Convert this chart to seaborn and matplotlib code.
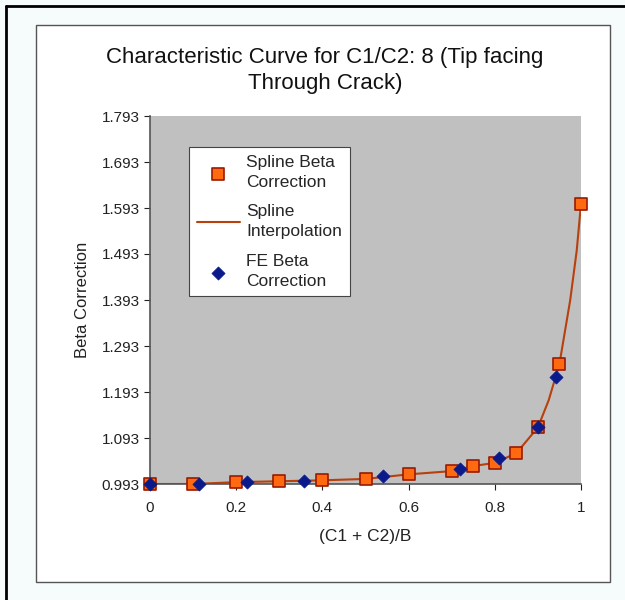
import numpy as np
import pandas as pd
import matplotlib
matplotlib.use('Agg')
import matplotlib.pyplot as plt
import seaborn as sns
from matplotlib.patches import Rectangle
from matplotlib.lines import Line2D

# values
spline_x = [0.0, 0.1, 0.2, 0.3, 0.4, 0.5, 0.6, 0.7, 0.75, 0.8, 0.85, 0.9, 0.95, 1.0]
spline_y = [0.993, 0.993, 0.997, 0.999, 1.001, 1.004, 1.014, 1.021, 1.032, 1.039, 1.060, 1.116, 1.254, 1.602]

curve_x = [0.0, 0.1, 0.2, 0.3, 0.4, 0.5, 0.6, 0.7, 0.75, 0.8, 0.85, 0.9, 0.925, 0.95, 0.975, 0.99, 1.0]
curve_y = [0.993, 0.993, 0.997, 0.999, 1.001, 1.004, 1.014, 1.021, 1.032, 1.039, 1.060, 1.116, 1.175, 1.254, 1.393, 1.50, 1.602]

fe_x = [0.0, 0.114, 0.224, 0.358, 0.54, 0.719, 0.81, 0.90, 0.942]
fe_y = [0.993, 0.993, 0.997, 0.999, 1.010, 1.026, 1.049, 1.116, 1.226]

y_ticks = [0.993, 1.093, 1.193, 1.293, 1.393, 1.493, 1.593, 1.693, 1.793]
x_ticks = [0, 0.2, 0.4, 0.6, 0.8, 1]

sns.set_theme(style='white')
plt.rcParams['font.family'] = ['Liberation Sans', 'DejaVu Sans']

fig = plt.figure(figsize=(6.25, 6.0), dpi=100)
fig.patch.set_facecolor('#f6fbfb')
# inner white chart area and outer black frame
fig.add_artist(Rectangle((36 / 625, 1 - 582 / 600), 574 / 625, 557 / 600,
                         transform=fig.transFigure, facecolor='white',
                         edgecolor='#555555', linewidth=1.0, zorder=0))
fig.add_artist(Line2D([6 / 625, 6 / 625], [0, 1 - 6 / 600], transform=fig.transFigure,
                      color='black', linewidth=2.0))
fig.add_artist(Line2D([6 / 625, 1], [1 - 6 / 600, 1 - 6 / 600], transform=fig.transFigure,
                      color='black', linewidth=2.0))

ax = fig.add_axes([150 / 625, 1 - 484 / 600, 431 / 625, 368 / 600])
ax.set_facecolor('#c0c0c0')

curve = pd.DataFrame({'x': curve_x, 'y': curve_y})
spline = pd.DataFrame({'x': spline_x, 'y': spline_y})
fe = pd.DataFrame({'x': fe_x, 'y': fe_y})

sns.lineplot(data=curve, x='x', y='y', ax=ax, color='#b8400c', linewidth=1.5,
             label='Spline\nInterpolation', zorder=2, sort=False)
sns.scatterplot(data=spline, x='x', y='y', ax=ax, marker='s', s=75,
                color='#ff6a10', edgecolor='#9a1a00', linewidth=1.2,
                label='Spline Beta\nCorrection', zorder=3, clip_on=False)
sns.scatterplot(data=fe, x='x', y='y', ax=ax, marker='D', s=45,
                color='#0a1a8a', edgecolor='#0a1a8a', linewidth=0.5,
                label='FE Beta\nCorrection', zorder=4, clip_on=False)

ax.set_xlim(0, 1)
ax.set_ylim(0.993, 1.793)
ax.set_xticks(x_ticks)
ax.set_xticklabels(['0', '0.2', '0.4', '0.6', '0.8', '1'])
ax.set_yticks(y_ticks)
ax.set_yticklabels([f'{v:.3f}' for v in y_ticks])
ax.tick_params(axis='both', labelsize=11, colors='#222222', length=4, width=0.8,
               direction='out', left=True, bottom=True)
ax.tick_params(axis='x', pad=8)

for side in ['top', 'right']:
    ax.spines[side].set_visible(False)
for side in ['left', 'bottom']:
    ax.spines[side].set_color('#555555')
    ax.spines[side].set_linewidth(1.2)

ax.set_xlabel('(C1 + C2)/B', fontsize=12.5, color='#222222', labelpad=10)
ax.set_ylabel('Beta Correction', fontsize=12, color='#222222', labelpad=8)

handles, labels = ax.get_legend_handles_labels()
order = [labels.index('Spline Beta\nCorrection'), labels.index('Spline\nInterpolation'),
         labels.index('FE Beta\nCorrection')]
leg = ax.legend([handles[i] for i in order], [labels[i] for i in order],
                loc='upper left', bbox_to_anchor=(0.09, 0.916), fontsize=12.5,
                frameon=True, fancybox=False, edgecolor='#444444',
                facecolor='white', framealpha=1, labelspacing=0.85,
                handlelength=2.5, borderpad=0.45, borderaxespad=0,
                handletextpad=0.35)
leg.get_frame().set_linewidth(0.8)
for t in leg.get_texts():
    t.set_linespacing(1.4)

fig.text(0.52, 1 - 57 / 600, 'Characteristic Curve for C1/C2: 8 (Tip facing',
         ha='center', va='center', fontsize=16, color='#111111')
fig.text(0.52, 1 - 84 / 600, 'Through Crack)',
         ha='center', va='center', fontsize=16, color='#111111')

fig.savefig('out.png', dpi=100, facecolor=fig.get_facecolor())
